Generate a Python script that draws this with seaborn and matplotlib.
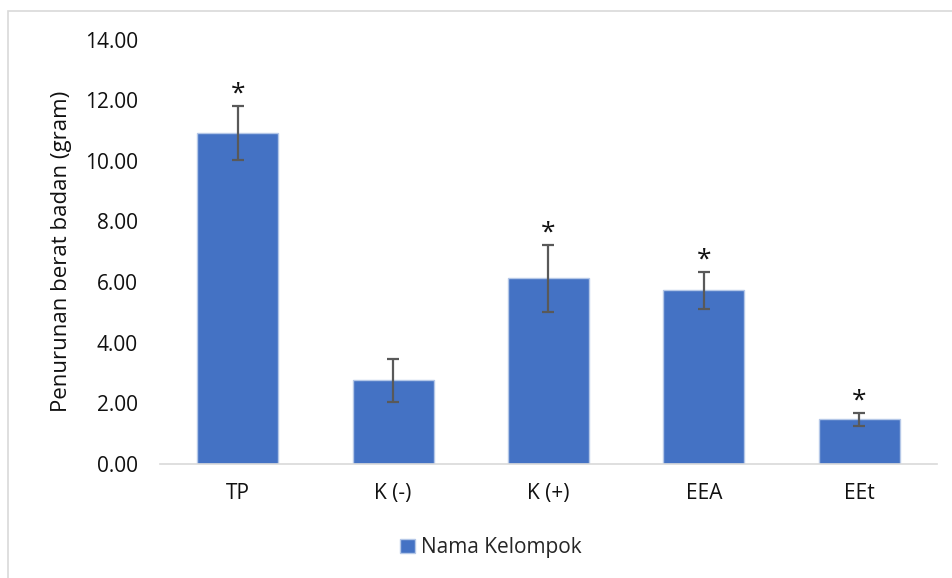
import pandas as pd
import seaborn as sns
import matplotlib.pyplot as plt
from matplotlib.patches import Rectangle

kelompok = ['TP', 'K (-)', 'K (+)', 'EEA', 'EEt']
penurunan = [10.93, 2.75, 6.12, 5.72, 1.46]
sd = [0.90, 0.70, 1.10, 0.60, 0.22]
tanda = ['*', '', '*', '*', '*']

df = pd.DataFrame({'Kelompok': kelompok, 'Penurunan': penurunan})

sns.set_style('white')
plt.rcParams['font.family'] = ['Open Sans', 'DejaVu Sans']

fig = plt.figure(figsize=(9.53, 5.78), dpi=100)
ax = fig.add_axes([0.168, 0.198, 0.815, 0.733])

sns.barplot(ax=ax, data=df, x='Kelompok', y='Penurunan', color='#4472C4',
            saturation=1, width=0.52, errorbar=None, label='Nama Kelompok',
            edgecolor='#b4c7e7', linewidth=1)

ax.errorbar(range(len(kelompok)), penurunan, yerr=sd, fmt='none',
            ecolor='#595959', elinewidth=1.6, capsize=4.5, capthick=1.6)

for i, t in enumerate(tanda):
    if t:
        ax.text(i, penurunan[i] + sd[i] - 0.02, t, ha='center', va='bottom',
                fontsize=19, color='#111111')

ax.set_ylim(0, 14)
ax.set_yticks(range(0, 15, 2))
ax.set_yticklabels([f'{v:.2f}' for v in range(0, 15, 2)])
ax.set_xlim(-0.5, 4.5)
ax.set_xlabel('')
ax.set_ylabel('Penurunan berat badan (gram)', fontsize=16, labelpad=9,
              color='#111111')
ax.tick_params(axis='both', length=0, labelsize=15, colors='#111111')
ax.tick_params(axis='y', pad=16)
ax.tick_params(axis='x', pad=14)
for s in ['top', 'right', 'left']:
    ax.spines[s].set_visible(False)
ax.spines['bottom'].set_color('#d9d9d9')
ax.spines['bottom'].set_linewidth(1.2)

handles, labels = ax.get_legend_handles_labels()
if ax.get_legend() is not None:
    ax.get_legend().remove()
fig.legend(handles[:1], labels[:1], loc='center', bbox_to_anchor=(0.515, 0.052),
           frameon=False, handlelength=0.7, handleheight=0.7,
           handletextpad=0.3, prop={'size': 15})

fig.patches.append(Rectangle((8 / 953, -0.01), 1.1, (578 - 11) / 578 + 0.01,
                             transform=fig.transFigure, fill=False,
                             edgecolor='#d9d9d9', linewidth=1.2))

fig.savefig('out.png', dpi=100)
